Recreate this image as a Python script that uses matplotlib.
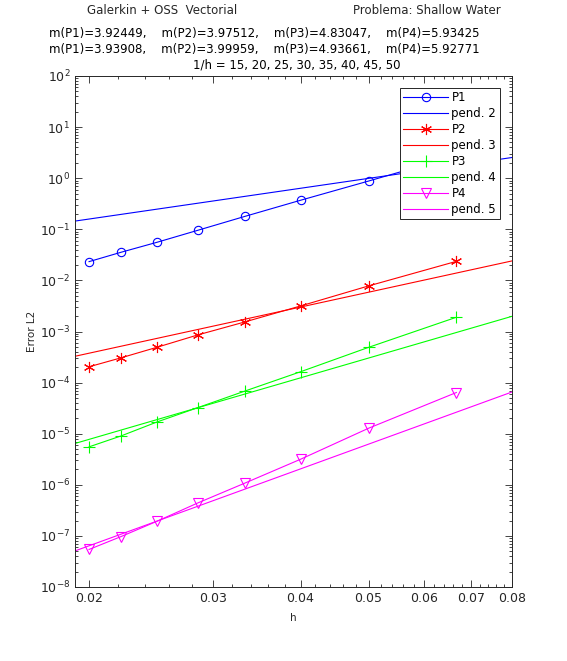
import matplotlib
matplotlib.use('Agg')
import matplotlib.pyplot as plt
from matplotlib.ticker import FixedLocator, NullFormatter, LogLocator

# mesh sizes 1/h = 50, 45, 40, 35, 30, 25, 20, 15
inv_h = [50, 45, 40, 35, 30, 25, 20, 15]
h = [1.0 / n for n in inv_h]

err_p1 = [0.0233, 0.0356, 0.0558, 0.0957, 0.179, 0.370, 0.88, 2.75]
err_p2 = [2.04e-4, 3.06e-4, 4.92e-4, 8.58e-4, 1.54e-3, 3.16e-3, 7.8e-3, 0.0236]
err_p3 = [5.53e-6, 9.06e-6, 1.70e-5, 3.24e-5, 6.83e-5, 1.63e-4, 4.9e-4, 1.9e-3]
err_p4 = [5.43e-8, 9.73e-8, 1.94e-7, 4.42e-7, 1.08e-6, 3.16e-6, 1.28e-5, 6.4e-5]

# reference slope lines  C * h^p
h_ref = [0.0191, 0.08]
slopes = [2, 3, 4, 5]
consts = [397.0, 47.0, 48.4, 20.0]

colors = ['#0000ff', '#ff0000', '#00ff00', '#ff00ff']
markers = ['o', (6, 2, 0), '+', 'v']
msizes = [6, 8, 9, 6.5]
errors = [err_p1, err_p2, err_p3, err_p4]
names = ['P1', 'P2', 'P3', 'P4']

x_ticks = [0.02, 0.03, 0.04, 0.05, 0.06, 0.07, 0.08]
x_ticklabels = ['0.02', '0.03', '0.04', '0.05', '0.06', '0.07', '0.08']

fig = plt.figure(figsize=(5.67, 6.61), dpi=100)
ax = fig.add_axes([75 / 567, 1 - 587 / 661, 437 / 567, 511 / 661])

for i in range(4):
    ax.loglog(h, errors[i], color=colors[i], marker=markers[i], lw=0.8,
              ms=msizes[i], mfc='none', mew=0.8, label=names[i])
    yref = [consts[i] * x ** slopes[i] for x in h_ref]
    ax.loglog(h_ref, yref, color=colors[i], lw=0.8,
              label='pend. %d' % slopes[i])

ax.set_xlim(0.0191, 0.08)
ax.set_ylim(1e-8, 1e2)

ax.xaxis.set_major_locator(FixedLocator(x_ticks))
ax.set_xticklabels(x_ticklabels)
ax.xaxis.set_minor_locator(FixedLocator([0.02 + 0.002 * k for k in range(31)]))
ax.xaxis.set_minor_formatter(NullFormatter())
ax.yaxis.set_major_locator(LogLocator(base=10, numticks=20))
ax.yaxis.set_minor_locator(LogLocator(base=10, subs=range(2, 10), numticks=20))
ax.yaxis.set_minor_formatter(NullFormatter())

ax.tick_params(which='both', direction='in', top=True, right=True,
               labelsize=9, colors='#262626', width=0.6)
ax.tick_params(which='major', length=5)
ax.tick_params(which='minor', length=2.5)
for s in ax.spines.values():
    s.set_linewidth(0.7)
    s.set_color('#262626')

ax.set_xlabel('h', fontsize=7.5, labelpad=6, color='#262626')
ax.set_ylabel('Error L2', fontsize=7.5, labelpad=2, color='#262626')

leg = ax.legend(loc='upper right', bbox_to_anchor=(0.972, 0.977), fontsize=8.5,
                fancybox=False, edgecolor='#262626', framealpha=1,
                handlelength=3.8, borderpad=0.3, labelspacing=0.25,
                handletextpad=0.3, borderaxespad=0)
leg.get_frame().set_linewidth(0.7)

fig.text(162 / 567, 1 - 10 / 661, 'Galerkin + OSS  Vectorial', ha='center',
         va='center', fontsize=8.5, color='#262626')
fig.text(427 / 567, 1 - 10 / 661, 'Problema: Shallow Water', ha='center',
         va='center', fontsize=8.5, color='#262626')
fig.text(264 / 567, 1 - 33 / 661,
         'm(P1)=3.92449,    m(P2)=3.97512,    m(P3)=4.83047,    m(P4)=5.93425',
         ha='center', va='center', fontsize=8.5)
fig.text(264 / 567, 1 - 49 / 661,
         'm(P1)=3.93908,    m(P2)=3.99959,    m(P3)=4.93661,    m(P4)=5.92771',
         ha='center', va='center', fontsize=8.5)
fig.text(297 / 567, 1 - 65 / 661, '1/h = 15, 20, 25, 30, 35, 40, 45, 50',
         ha='center', va='center', fontsize=8.5)

fig.savefig('out.png', dpi=100)
